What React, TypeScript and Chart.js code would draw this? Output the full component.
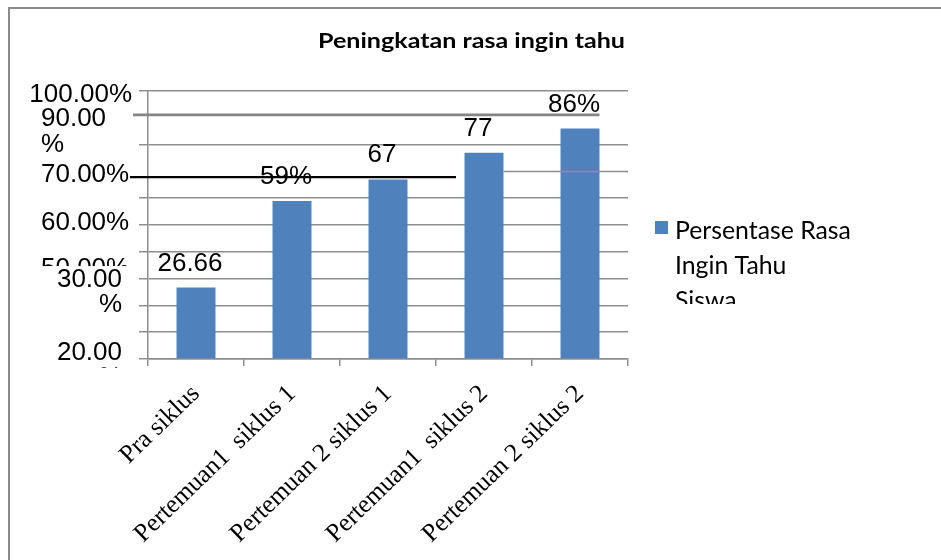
import React, { useEffect, useRef } from 'react';
import { Chart, registerables } from 'chart.js';

Chart.register(...registerables);

const chartTitle = 'Peningkatan rasa ingin tahu';
const seriesName = 'Persentase Rasa Ingin Tahu Siswa';
const categories = ['Pra siklus', 'Pertemuan1  siklus 1', 'Pertemuan 2 siklus 1', 'Pertemuan1  siklus 2', 'Pertemuan 2 siklus 2'];
const values = [26.66, 59, 67, 77, 86];
const valueLabels = ['26.66', '59%', '67', '77', '86%'];
const yMin = 0;
const yMax = 100;
const yStep = 10;
const yLabelTexts = [['100.00%'], ['90.00', '%'], ['70.00%'], ['60.00%'], ['50.00%'], ['30.00', '%'], ['20.00', '%']];

const BAR = '#4f81bd';
const GRID = '#8e8e8e';
const SANS = '"Liberation Sans", Arial, sans-serif';

// placement of the (manually placed) y-axis label boxes, in axis values
const yLabelPlace = [
  { v: 99.25, align: 'right', dx: -16 },
  { v: 90.3, align: 'left', dx: -107, lh: 26 },
  { v: 69.6, align: 'left', dx: -107 },
  { v: 51.5, align: 'left', dx: -107 },
  { v: 34.3, align: 'left', dx: -107, clipTo: 31.5 },
  { v: 30.2, align: 'right', dx: -26, lh: 25, box: true },
  { v: 3.0, align: 'right', dx: -26, lh: 25, clipTo: -3.3 },
];

const overlayPlugin = {
  id: 'overlay',
  afterDatasetsDraw(chart: any) {
    const ctx = chart.ctx;
    const meta = chart.getDatasetMeta(0);
    ctx.save();
    ctx.fillStyle = '#000';
    ctx.font = `26px ${SANS}`;
    ctx.textAlign = 'center';
    ctx.textBaseline = 'alphabetic';
    meta.data.forEach((el: any, i: number) => {
      ctx.fillText(valueLabels[i], el.x - 6, el.y - 17);
    });
    ctx.restore();
  },
  afterDraw(chart: any) {
    const ctx = chart.ctx;
    const area = chart.chartArea;
    const ys = chart.scales.y;
    const meta = chart.getDatasetMeta(0);
    const W = chart.width;
    ctx.save();

    // partially visible 70% gridline (right of 4th bar)
    const b4 = meta.data[3];
    const y70 = Math.round(ys.getPixelForValue(70)) + 0.5;
    ctx.strokeStyle = GRID;
    ctx.lineWidth = 1.5;
    ctx.beginPath();
    ctx.moveTo(b4.x + b4.width / 2, y70);
    ctx.lineTo(area.right, y70);
    ctx.stroke();

    // thick gray line near 90%
    const b5 = meta.data[4];
    const yG = ys.getPixelForValue(91.1);
    ctx.strokeStyle = '#858585';
    ctx.lineWidth = 2.8;
    ctx.beginPath();
    ctx.moveTo(area.left - 15, yG);
    ctx.lineTo(b5.x + b5.width / 2, yG);
    ctx.stroke();

    // black line near 70%
    const yB = ys.getPixelForValue(67.9);
    ctx.strokeStyle = '#000';
    ctx.lineWidth = 2.2;
    ctx.beginPath();
    ctx.moveTo(area.left - 18, yB);
    ctx.lineTo(chart.scales.x.getPixelForValue(3) - 28, yB);
    ctx.stroke();

    // y axis labels
    ctx.font = `26px ${SANS}`;
    ctx.fillStyle = '#000';
    ctx.textBaseline = 'alphabetic';
    yLabelPlace.forEach((p, i) => {
      const lines = yLabelTexts[i];
      const cy = ys.getPixelForValue(p.v);
      const x = area.left + p.dx;
      const lh = p.lh || 26;
      ctx.save();
      if (p.box) {
        ctx.fillStyle = '#fff';
        ctx.fillRect(area.left - 108, cy - 12, 98, lines.length * lh + 10);
        ctx.fillStyle = '#000';
      }
      if (p.clipTo !== undefined) {
        ctx.beginPath();
        ctx.rect(0, 0, area.left - 10, ys.getPixelForValue(p.clipTo));
        ctx.clip();
      }
      ctx.textAlign = p.align;
      lines.forEach((t, j) => {
        ctx.fillText(t, x, cy + j * lh + 9.3);
      });
      ctx.restore();
    });

    // title (slightly widened, as in the source picture)
    ctx.save();
    ctx.font = `bold 20px Lato, "Open Sans", sans-serif`;
    ctx.textAlign = 'center';
    ctx.fillStyle = '#000';
    const tw = ctx.measureText(chartTitle).width;
    const sx = 307 / tw;
    ctx.translate(W / 2 + 1, 48);
    ctx.scale(sx, 1);
    ctx.fillText(chartTitle, 0, 0);
    ctx.restore();

    // legend
    const ds = chart.data.datasets[0];
    const lx = area.right + 27;
    ctx.fillStyle = ds.backgroundColor;
    ctx.fillRect(lx, 221, 13, 13);
    ctx.font = `24.8px Lato, "Open Sans", sans-serif`;
    ctx.textAlign = 'left';
    ctx.fillStyle = '#000';
    const words = String(ds.label).split(' ');
    const lines: string[] = [];
    let cur = '';
    words.forEach((w) => {
      const test = cur ? cur + ' ' + w : w;
      if (ctx.measureText(test).width > 176 && cur) {
        lines.push(cur);
        cur = w;
      } else cur = test;
    });
    if (cur) lines.push(cur);
    ctx.beginPath();
    ctx.rect(lx, 200, 300, 104);
    ctx.clip();
    lines.forEach((t, j) => ctx.fillText(t, lx + 20, 239 + j * 35));
    ctx.restore();
  },
};

export default function App() {
  const ref = useRef<HTMLCanvasElement>(null);
  useEffect(() => {
    if (!ref.current) return;
    const chart = new Chart(ref.current, {
      type: 'bar',
      data: {
        labels: categories,
        datasets: [
          {
            label: seriesName,
            data: values,
            backgroundColor: BAR,
            categoryPercentage: 1,
            barPercentage: 0.406,
          },
        ],
      },
      options: {
        animation: false,
        responsive: false,
        devicePixelRatio: 1,
        layout: { padding: { left: 139, right: 313, top: 91, bottom: 0 } },
        plugins: {
          legend: { display: false },
          title: { display: false },
          tooltip: { enabled: false },
        },
        scales: {
          x: {
            grid: { drawOnChartArea: false, tickLength: 7, color: GRID, lineWidth: 1.5, offset: true },
            border: { color: GRID, width: 1.5 },
            ticks: {
              autoSkip: false,
              minRotation: 44,
              maxRotation: 44,
              padding: 13,
              color: '#000',
              font: { family: '"Liberation Serif", "Times New Roman", serif', size: 25.5 },
            },
            afterFit: (s: any) => {
              s.height = 201;
            },
          },
          y: {
            min: yMin,
            max: yMax,
            ticks: { stepSize: yStep, display: false },
            grid: {
              tickLength: 9,
              lineWidth: 1.5,
              color: (c: any) => (c.tick && (c.tick.value === 90 || c.tick.value === 70) ? 'rgba(0,0,0,0)' : GRID),
            },
            border: { color: GRID, width: 1.5 },
            afterFit: (s: any) => {
              s.width = 9;
            },
          },
        },
      },
      plugins: [overlayPlugin],
    } as any);
    return () => chart.destroy();
  }, []);
  return (
    <div style={{ position: 'absolute', left: 0, top: 0, width: 941, height: 560, overflow: 'hidden', background: '#fff' }}>
      <div style={{ position: 'absolute', left: 8, top: 7, width: 1000, height: 700, border: '2px solid #8a8a8a' }} />
      <canvas ref={ref} width={941} height={560} style={{ position: 'absolute', left: 0, top: 0, width: 941, height: 560 }} />
    </div>
  );
}
